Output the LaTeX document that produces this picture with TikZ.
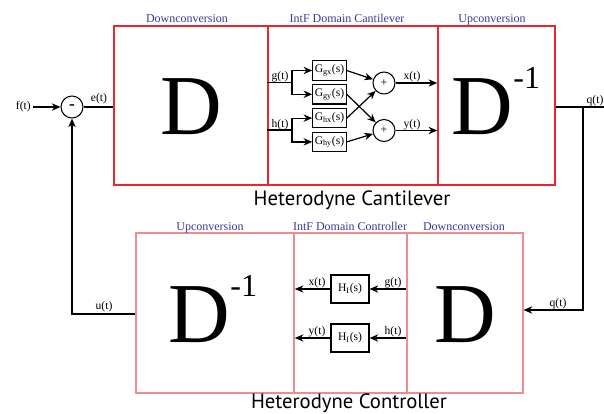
\documentclass[tikz,border=0pt]{standalone}
\usepackage{fontspec}
\setmainfont{Liberation Serif}
\newfontfamily\hetfont{PT Sans}
\usetikzlibrary{arrows.meta,fit}
\definecolor{seclbl}{RGB}{58,58,150}
\definecolor{redA}{RGB}{232,38,45}
\definecolor{redB}{RGB}{240,140,140}
\newcommand{\bigDfont}{\fontsize{64}{64}\selectfont}
\newcommand{\supsz}{\fontsize{24}{24}\selectfont}
\newcommand{\Dinv}{D\raisebox{34pt}{\supsz -1}}
\begin{document}
\begin{tikzpicture}[x=0.75pt,y=-0.75pt,
  sec/.style={font=\fontsize{9}{10}\selectfont, text=seclbl, anchor=base, inner sep=0pt},
  sig/.style={font=\fontsize{8.7}{9}\selectfont, inner sep=0pt, anchor=base},
  topbox/.style={draw=redA, line width=1.2pt, inner sep=0pt},
  botbox/.style={draw=redB, line width=0.8pt, inner sep=0pt},
  blk/.style={draw, line width=0.9pt, inner sep=1pt, font=\fontsize{8.7}{9}\selectfont},
  sumc/.style={draw, circle, line width=0.8pt, minimum size=16.5pt, inner sep=0pt},
  wire/.style={line width=0.9pt},
  arr/.style={wire, -{Stealth[length=6.5pt,width=5.5pt]}},
  het/.style={font=\hetfont\fontsize{15.5}{16}\selectfont, anchor=base, inner sep=0pt},
  bigd/.style={font=\bigDfont, inner sep=0pt, anchor=base}]

\useasboundingbox[fill=white] (0,0) rectangle (604,414);

% ---------- top: heterodyne cantilever ----------
\node[topbox, fit={(114,26)(268,185)}] (down1) {};
\node[topbox, fit={(268,26)(438,185)}] (intf1) {};
\node[topbox, fit={(438,26)(555,185)}] (up1) {};

\node[sec] (lblDown1) at (187,22) {Downconversion};
\node[sec] (lblIntf1) at (347,22) {IntF Domain Cantilever};
\node[sec] (lblUp1) at (492,22) {Upconversion};

\node[bigd] (Dtop) at (191,134) {D};
\node[bigd] (Dinvtop) at (496,134) {\Dinv};

\node[het] (hcant) at (352,205) {Heterodyne Cantilever};

% summing junction and input
\node[sumc, font=\bfseries\fontsize{13}{13}\selectfont] (sum) at (72,107) {-};
\node[sig, anchor=east] (fin) at (31,107) {f(t)};
\draw[arr] ([xshift=1.5pt]fin.east) -- (sum);
\draw[wire] (sum) -- (sum -| down1.west);
\node[sig] (elbl) at (99,101) {e(t)};

% inner cantilever
\node[blk, minimum width=25pt, minimum height=14.5pt] (Ggx) at (329.5,70.5) {G\textsubscript{gx}(s)};
\node[blk, minimum width=25pt, minimum height=14.5pt] (Ggy) at (329.5,94.3) {G\textsubscript{gy}(s)};
\node[blk, minimum width=25pt, minimum height=14.5pt] (Ghx) at (329.5,118.1) {G\textsubscript{hx}(s)};
\node[blk, minimum width=25pt, minimum height=14.5pt] (Ghy) at (329.5,141.9) {G\textsubscript{hy}(s)};

\coordinate (gsplit) at (292,82.5);
\coordinate (hsplit) at (292,130);
\draw[wire] (gsplit -| intf1.west) -- (gsplit);
\draw[wire] (hsplit -| intf1.west) -- (hsplit);
\draw[arr] (gsplit) |- (Ggx.west);
\draw[arr] (gsplit) |- (Ggy.west);
\draw[arr] (hsplit) |- (Ghx.west);
\draw[arr] (hsplit) |- (Ghy.west);
\node[sig] (glbl1) at (280,79) {g(t)};
\node[sig] (hlbl1) at (280,127) {h(t)};

\node[sumc, font=\fontsize{9}{9}\selectfont] (sumx) at (384,83) {+};
\node[sumc, font=\fontsize{9}{9}\selectfont] (sumy) at (384,130.5) {+};
\draw[arr] (Ggx.east) -- (sumx);
\draw[arr] (Ghx.east) -- (sumx);
\draw[arr] (Ggy.east) -- (sumy);
\draw[arr] (Ghy.east) -- (sumy);
\draw[arr] (sumx) -- (sumx -| up1.west);
\draw[arr] (sumy) -- (sumy -| up1.west);
\node[sig] (xlbl1) at (412,79) {x(t)};
\node[sig] (ylbl1) at (412,127) {y(t)};

% output q(t)
\coordinate (qc) at (583,107);
\coordinate (qend) at (604,107);
\coordinate (qdown) at (583,310);
\draw[wire] (qc -| up1.east) -- (qend);
\node[sig] (qlbl1) at (595,103) {q(t)};

% ---------- bottom: heterodyne controller ----------
\node[botbox, fit={(136,233)(294,393)}] (up2) {};
\node[botbox, fit={(294,233)(407,393)}] (intf2) {};
\node[botbox, fit={(407,233)(523,393)}] (down2) {};

\node[sec] (lblUp2) at (210,230) {Upconversion};
\node[sec] (lblIntf2) at (350,230) {IntF Domain Controller};
\node[sec] (lblDown2) at (464,230) {Downconversion};

\node[bigd] (Dinvbot) at (213,342) {\Dinv};
\node[bigd] (Dbot) at (465,342) {D};

\node[het] (hctrl) at (349,408) {Heterodyne Controller};

\draw[arr] (qc) -- (qdown) -- (qdown -| down2.east);
\node[sig] (qlbl2) at (558,306) {q(t)};

\node[blk, minimum width=28.5pt, minimum height=21pt] (H1) at (350,289) {H\textsubscript{I}(s)};
\node[blk, minimum width=28.5pt, minimum height=21pt] (H2) at (350,338) {H\textsubscript{I}(s)};
\draw[arr] (H1 -| down2.west) -- (H1.east);
\draw[arr] (H2 -| down2.west) -- (H2.east);
\draw[arr, shorten >=1pt] (H1.west) -- (H1 -| intf2.west);
\draw[arr, shorten >=1pt] (H2.west) -- (H2 -| intf2.west);
\node[sig] (glbl2) at (393,285) {g(t)};
\node[sig] (hlbl2) at (393,334) {h(t)};
\node[sig] (xlbl2) at (317,285) {x(t)};
\node[sig] (ylbl2) at (317,334) {y(t)};

% feedback
\coordinate (fbc) at (72,314);
\draw[arr] (up2.west |- fbc) -- (fbc) -- (sum);
\node[sig] (ulbl) at (104,309) {u(t)};
\end{tikzpicture}
\end{document}
